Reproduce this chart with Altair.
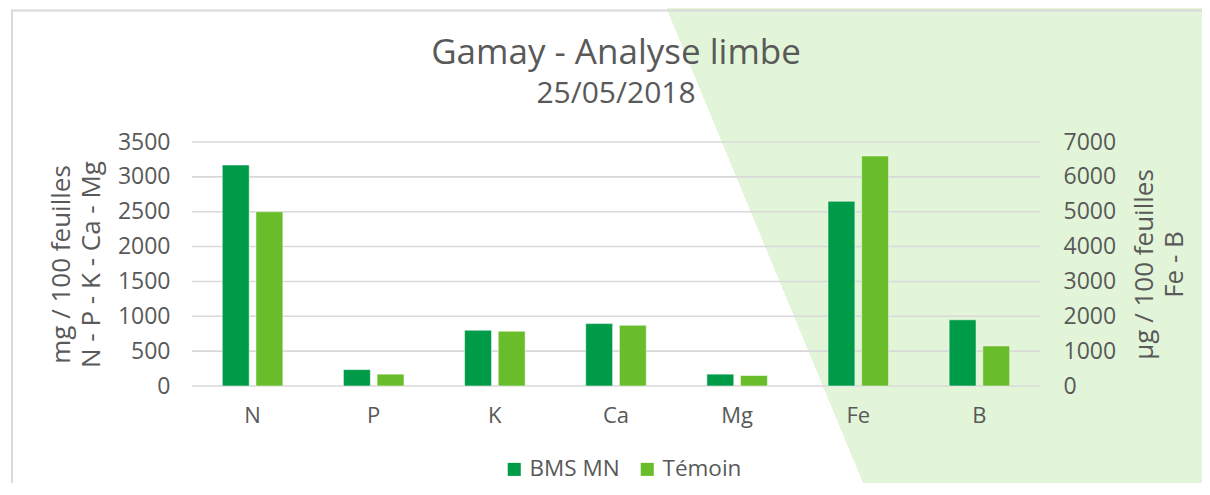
import altair as alt
import pandas as pd

# ---- data ----
categories = ["N", "P", "K", "Ca", "Mg", "Fe", "B"]
series = ["BMS MN", "Témoin"]
bms_mn = [3170, 235, 800, 895, 170, 5300, 1900]
temoin = [2500, 170, 785, 870, 150, 6600, 1150]
right_axis_cats = ["Fe", "B"]          # plotted on the secondary (µg) axis
left_ticks = [0, 500, 1000, 1500, 2000, 2500, 3000, 3500]
right_ticks = [0, 1000, 2000, 3000, 4000, 5000, 6000, 7000]

rows = []
for c, a, b in zip(categories, bms_mn, temoin):
    side = "right" if c in right_axis_cats else "left"
    rows.append({"cat": c, "serie": series[0], "val": a, "side": side})
    rows.append({"cat": c, "serie": series[1], "val": b, "side": side})
df = pd.DataFrame(rows)
df_left = df[df.side == "left"]
df_right = df[df.side == "right"]
grid_df = pd.DataFrame({"v": left_ticks})

W, H = 848, 244
PAD = {"left": 184, "top": 134, "right": 162, "bottom": 97}
TOTAL_W = W + PAD["left"] + PAD["right"]
TOTAL_H = H + PAD["top"] + PAD["bottom"]

FONT = "Open Sans"
GREY = "#595959"
GRID = "#D9D9D9"
LIGHT_BG = "#E2F5D8"

# ---- decorative background (diagonal light-green panel) ----
# boundary from page (663,0) to (868,495), expressed in the rect's bbox units
u1, v1 = (663 - 8) / TOTAL_W, (0 - 8) / TOTAL_H
u2, v2 = (868 - 8) / TOTAL_W, (495 - 8) / TOTAL_H
mx, my = (u1 + u2) / 2, (v1 + v2) / 2
ddx, ddy = u2 - u1, v2 - v1
nlen = (ddx * ddx + ddy * ddy) ** 0.5
nx, ny = ddy / nlen * 0.5, -ddx / nlen * 0.5
bg_gradient = {
    "gradient": "linear",
    "x1": mx - nx, "y1": my - ny, "x2": mx + nx, "y2": my + ny,
    "stops": [
        {"offset": 0.0, "color": "#FFFFFF"},
        {"offset": 0.5, "color": "#FFFFFF"},
        {"offset": 0.5, "color": LIGHT_BG},
        {"offset": 1.0, "color": LIGHT_BG},
    ],
}
one = alt.Data(values=[{"k": 1}])
background = alt.Chart(one).mark_rect(fill=bg_gradient, clip=False).encode(
    x=alt.value(-PAD["left"]), x2=alt.value(W + PAD["right"]),
    y=alt.value(-PAD["top"]), y2=alt.value(H + PAD["bottom"]),
)
frame = alt.Chart(one).mark_rect(
    fill="transparent", stroke=GRID, strokeWidth=2, clip=False
).encode(
    x=alt.value(-180), x2=alt.value(W + PAD["right"] + 20),
    y=alt.value(-131.5), y2=alt.value(H + PAD["bottom"] + 20),
)

# ---- gridlines (left-axis ticks) ----
grid = alt.Chart(grid_df).mark_rule(color=GRID, strokeWidth=1.6).encode(
    y=alt.Y("v:Q", scale=alt.Scale(domain=[0, 3500]), axis=None),
    x=alt.value(0), x2=alt.value(W),
)

xenc = alt.X(
    "cat:N", sort=categories,
    scale=alt.Scale(domain=categories, paddingInner=0.5, paddingOuter=0.25),
    axis=alt.Axis(title=None, labelAngle=0, domain=False, ticks=False, zindex=2,
                  labelPadding=19, labelFontSize=22, labelColor=GREY, labelFont=FONT),
)
xoff = alt.XOffset("serie:N", sort=series,
                   scale=alt.Scale(domain=series, paddingInner=0.2))
color = alt.Color(
    "serie:N", sort=series,
    scale=alt.Scale(domain=series, range=["#009B48", "#6ABD2A"]),
    legend=alt.Legend(
        title=None, orient="none", direction="horizontal",
        legendX=311, legendY=316, symbolType="square", symbolSize=170,
        symbolStrokeWidth=0, labelFontSize=22.5, labelColor=GREY, labelFont=FONT,
        columnPadding=16, labelOffset=4, zindex=2,
    ),
)

bar_style = dict(stroke="white", strokeWidth=1, strokeOpacity=0.5)

left = alt.Chart(df_left).mark_bar(**bar_style).encode(
    x=xenc, xOffset=xoff, color=color,
    y=alt.Y("val:Q", scale=alt.Scale(domain=[0, 3500]),
            axis=alt.Axis(
                orient="left", values=left_ticks, format="d",
                grid=False, domain=False, ticks=False, zindex=2,
                labelPadding=22, labelFontSize=23, labelColor=GREY, labelFont=FONT,
                title=["mg / 100 feuilles", "N - P - K - Ca - Mg"],
                titleFontSize=26, titleFontWeight="normal", titleColor=GREY,
                titleFont=FONT, titleLineHeight=30, titlePadding=13,
            )),
)

right = alt.Chart(df_right).mark_bar(**bar_style).encode(
    x=xenc, xOffset=xoff, color=color,
    y=alt.Y("val:Q", scale=alt.Scale(domain=[0, 7000]),
            axis=alt.Axis(
                orient="right", values=right_ticks, format="d",
                grid=False, domain=False, ticks=False, zindex=2,
                labelPadding=23, labelFontSize=23, labelColor=GREY, labelFont=FONT,
                title=["µg / 100 feuilles", "Fe - B"],
                titleFontSize=26, titleFontWeight="normal", titleColor=GREY,
                titleFont=FONT, titleLineHeight=30, titlePadding=-14,
                titleAngle=270, titleBaseline="top",
            )),
)

chart = alt.layer(background, frame, grid, left, right).resolve_scale(
    y="independent"
).properties(
    width=W, height=H,
    autosize=alt.AutoSizeParams(type="none"),
    padding=PAD,
    title=alt.TitleParams(
        text="Gamay - Analyse limbe", subtitle="25/05/2018",
        anchor="middle", frame="group",
        font=FONT, fontSize=35, fontWeight="normal", color=GREY,
        subtitleFont=FONT, subtitleFontSize=30, subtitleColor=GREY,
        subtitlePadding=8, offset=0, dy=101, zindex=2,
    ),
).configure_view(stroke=None).configure(background="white")

chart.save("out.html", embed_options={"renderer": "svg", "actions": False})
